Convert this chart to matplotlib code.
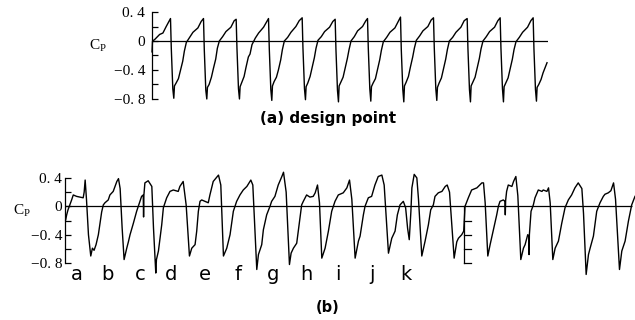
import matplotlib
matplotlib.use("Agg")
import matplotlib.pyplot as plt

# ---- data (a) design point: Cp over blade passages ----
top_start_t = [0.0, 0.015, 0.08, 0.23, 0.33, 0.43]
top_start_cp = [-0.15, 0.0, 0.02, 0.09, 0.11, 0.20]
top_peaks = [0.56, 1.56, 2.55, 3.53, 4.55, 5.55, 6.53, 7.53, 8.53, 9.55, 10.55, 11.55]
# phase after each peak (in passages)
top_phase = [0, 0.024, 0.07, 0.10, 0.12, 0.17, 0.24, 0.30, 0.37, 0.42, 0.48, 0.58, 0.68, 0.83, 0.93]
top_cycles = [
    [0.31, -0.10, -0.66, -0.79, -0.62, -0.58, -0.52, -0.41, -0.28, -0.14, -0.02, 0.05, 0.12, 0.18, 0.27],
    [0.31, -0.12, -0.68, -0.80, -0.64, -0.60, -0.50, -0.38, -0.25, -0.10, 0.00, 0.06, 0.13, 0.19, 0.28],
    [0.30, -0.10, -0.66, -0.80, -0.63, -0.57, -0.49, -0.36, -0.22, -0.18, -0.05, 0.04, 0.11, 0.19, 0.27],
    [0.31, -0.11, -0.67, -0.82, -0.62, -0.56, -0.50, -0.40, -0.26, -0.12, 0.00, 0.05, 0.12, 0.20, 0.28],
    [0.32, -0.10, -0.66, -0.81, -0.63, -0.58, -0.49, -0.37, -0.23, -0.10, 0.01, 0.06, 0.13, 0.19, 0.27],
    [0.30, -0.12, -0.68, -0.84, -0.62, -0.57, -0.50, -0.38, -0.24, -0.12, 0.00, 0.06, 0.14, 0.20, 0.28],
    [0.31, -0.10, -0.66, -0.83, -0.63, -0.58, -0.52, -0.40, -0.26, -0.13, -0.01, 0.05, 0.12, 0.18, 0.27],
    [0.33, -0.12, -0.67, -0.84, -0.62, -0.57, -0.49, -0.36, -0.22, -0.10, 0.01, 0.07, 0.14, 0.20, 0.29],
    [0.32, -0.10, -0.66, -0.82, -0.64, -0.58, -0.51, -0.39, -0.25, -0.12, 0.00, 0.05, 0.12, 0.19, 0.28],
    [0.31, -0.11, -0.67, -0.84, -0.62, -0.57, -0.50, -0.38, -0.24, -0.11, 0.00, 0.06, 0.13, 0.19, 0.28],
    [0.32, -0.10, -0.66, -0.84, -0.63, -0.58, -0.51, -0.39, -0.25, -0.12, -0.01, 0.05, 0.12, 0.19, 0.28],
    [0.32, -0.11, -0.67, -0.83, -0.64, -0.60, -0.53, -0.44, -0.36, -0.30],
]
top_tmax = 12.0

# ---- data (b): off-design, traced curve ----
bot_t = [0.02, 0.05, 0.09, 0.13, 0.20, 0.25, 0.35, 0.45, 0.55, 0.58, 0.61, 0.65, 0.71, 0.78, 0.83, 0.88,
         0.94, 1.01, 1.06, 1.11, 1.16, 1.21, 1.26, 1.31, 1.36, 1.46, 1.57, 1.62, 1.67, 1.73, 1.79, 1.87,
         1.92, 1.97, 2.07, 2.17, 2.27, 2.32, 2.37, 2.38, 2.39, 2.42, 2.52, 2.63, 2.68, 2.75, 2.77, 2.83,
         2.88, 2.93, 2.98, 3.08, 3.18, 3.28, 3.36, 3.43, 3.48, 3.58, 3.67, 3.77, 3.84, 3.94, 3.99, 4.04,
         4.09, 4.14, 4.24, 4.34, 4.39, 4.49, 4.65, 4.72, 4.80, 4.90, 5.00, 5.10, 5.20, 5.30, 5.40, 5.51,
         5.63, 5.69, 5.81, 5.86, 5.96, 6.01, 6.11, 6.21, 6.26, 6.36, 6.46, 6.57, 6.62, 6.70, 6.80, 6.85,
         6.92, 7.02, 7.12, 7.17, 7.22, 7.32, 7.42, 7.52, 7.58, 7.65, 7.71, 7.78, 7.88, 7.98, 8.08, 8.18,
         8.28, 8.43, 8.54, 8.62, 8.69, 8.79, 8.89, 8.94, 9.04, 9.09, 9.19, 9.29, 9.39, 9.49, 9.60, 9.67,
         9.80, 9.90, 10.00, 10.07, 10.15, 10.25, 10.32, 10.38, 10.43, 10.48, 10.51, 10.58, 10.66, 10.71,
         10.81, 10.91, 11.01, 11.08, 11.16, 11.21, 11.31, 11.42, 11.52, 11.58, 11.65, 11.79, 11.87, 11.92,
         12.02, 12.08, 12.12, 12.22, 12.32, 12.48, 12.63, 12.68, 12.73, 12.81, 12.88, 12.98, 13.08, 13.13,
         13.18, 13.28, 13.33, 13.34, 13.35, 13.38, 13.43, 13.54, 13.59, 13.66, 13.72, 13.81, 13.89, 13.94,
         14.02, 14.05, 14.06, 14.07, 14.12, 14.19, 14.24, 14.34, 14.45, 14.49, 14.60, 14.65, 14.70, 14.78,
         14.85, 14.95, 15.05, 15.15, 15.25, 15.35, 15.45, 15.55, 15.66, 15.71, 15.79, 15.86, 15.91, 16.01,
         16.11, 16.21, 16.31, 16.36, 16.46, 16.54, 16.62, 16.68, 16.80, 16.87, 16.97, 17.07, 17.17, 17.27]
bot_cp = [-0.19, -0.12, -0.05, 0.00, 0.09, 0.16, 0.14, 0.13, 0.12, 0.20, 0.37, 0.10, -0.40, -0.70, -0.59, -0.62,
          -0.54, -0.40, -0.24, -0.08, 0.02, 0.05, 0.07, 0.09, 0.16, 0.21, 0.35, 0.39, 0.25, -0.30, -0.75, -0.59,
          -0.50, -0.40, -0.24, -0.07, 0.07, 0.14, 0.16, -0.15, 0.16, 0.33, 0.36, 0.28, -0.30, -0.94, -0.75, -0.63,
          -0.45, -0.26, -0.02, 0.12, 0.21, 0.23, 0.22, 0.21, 0.28, 0.35, 0.02, -0.70, -0.59, -0.54, -0.35, -0.07,
          0.07, 0.09, 0.07, 0.05, 0.16, 0.35, 0.44, 0.30, -0.70, -0.59, -0.40, -0.07, 0.07, 0.16, 0.23, 0.28,
          0.37, 0.30, -0.89, -0.68, -0.54, -0.33, -0.12, 0.00, 0.07, 0.14, 0.30, 0.42, 0.48, 0.20, -0.82, -0.66,
          -0.59, -0.52, -0.16, 0.02, 0.07, 0.16, 0.13, 0.14, 0.19, 0.30, 0.05, -0.73, -0.59, -0.35, -0.07, 0.07,
          0.16, 0.19, 0.26, 0.37, 0.10, -0.73, -0.49, -0.42, -0.12, 0.00, 0.12, 0.14, 0.30, 0.42, 0.44, 0.30,
          -0.66, -0.45, -0.35, -0.12, 0.02, 0.07, -0.02, -0.31, -0.47, -0.07, 0.26, 0.45, 0.40, 0.10,
          -0.70, -0.49, -0.26, -0.05, 0.02, 0.14, 0.19, 0.21, 0.28, 0.30, 0.20, -0.73, -0.50, -0.45,
          -0.40, -0.35, 0.00, 0.12, 0.23, 0.26, 0.33, 0.33, 0.05, -0.70, -0.54, -0.33, -0.12, 0.00,
          0.07, 0.09, 0.07, -0.12, 0.08, 0.21, 0.30, 0.28, 0.35, 0.42, 0.15, -0.75, -0.59, -0.54,
          -0.40, -0.42, -0.68, -0.40, -0.07, 0.02, 0.12, 0.23, 0.21, 0.23, 0.21, 0.26, 0.05, -0.75,
          -0.59, -0.49, -0.24, -0.02, 0.09, 0.16, 0.26, 0.33, 0.25, -0.10, -0.96, -0.68, -0.59, -0.42,
          -0.07, 0.05, 0.14, 0.17, 0.19, 0.22, 0.33, 0.10, -0.89, -0.63, -0.49, -0.21, 0.02, 0.14]
bot_tmax = 17.27
bot_zero_end = 17.18
split_t = 12.10
split_ticks = [-0.2, -0.4, -0.6, -0.8]
letters = list("abcdefghijk")
letter_t = [0.36, 1.27, 2.27, 3.21, 4.24, 5.24, 6.30, 7.30, 8.27, 9.30, 10.33]

yticks = [-0.8, -0.4, 0.0, 0.4]
ylabels = ["\u22120. 8", "\u22120. 4", "0", "0. 4"]
yminor = [-0.6, -0.2, 0.2]

# build top series
t_top = list(top_start_t)
cp_top = list(top_start_cp)
for pk, vals in zip(top_peaks, top_cycles):
    for ph, v in zip(top_phase, vals):
        t_top.append(pk + ph)
        cp_top.append(v)

fig = plt.figure(figsize=(6.35, 3.2), dpi=100)
ax_a = fig.add_axes([0.2394, 0.6794, 0.6236, 0.2944])
ax_b = fig.add_axes([0.1024, 0.1667, 0.8976, 0.2884])

lw = 1.0
tick_font = dict(family="Liberation Serif", size=11)


def style_axis(ax, xmax, pad):
    ax.set_xlim(0, xmax)
    ax.set_ylim(-0.85, 0.45)
    for s in ["top", "right", "bottom"]:
        ax.spines[s].set_visible(False)
    ax.spines["left"].set_bounds(-0.8, 0.4)
    ax.spines["left"].set_linewidth(0.9)
    ax.set_xticks([])
    ax.set_yticks(yticks)
    ax.set_yticklabels(ylabels, fontdict=tick_font)
    ax.set_yticks(yminor, minor=True)
    ax.tick_params(axis="y", which="both", direction="in", length=4.3, width=0.9, pad=pad)
    ax.patch.set_visible(False)


style_axis(ax_a, top_tmax, 5)
ax_a.plot(t_top, cp_top, color="black", lw=lw, clip_on=False)
ax_a.axhline(0, color="black", lw=0.9)

style_axis(ax_b, bot_tmax, 2)
ax_b.plot(bot_t, bot_cp, color="black", lw=lw, clip_on=False)
ax_b.hlines(0, 0, bot_zero_end, color="black", lw=0.9)

# second bracket inside panel (b)
ax_b.plot([split_t, split_t], [0, split_ticks[-1]], color="black", lw=0.9)
tick_w = 0.21
for yv in split_ticks:
    ax_b.plot([split_t, split_t + tick_w], [yv, yv], color="black", lw=0.9)

for lt, ch in zip(letter_t, letters):
    ax_b.text(lt, -0.145, ch, transform=ax_b.get_xaxis_transform(), ha="center", va="baseline",
              fontsize=14, family="DejaVu Sans")

fig.text(89 / 635, 1 - 46 / 320, r"C$_\mathregular{P}$", fontsize=11, family="Liberation Serif",
         ha="left", va="center")
fig.text(13 / 635, 1 - 211 / 320, r"C$_\mathregular{P}$", fontsize=11, family="Liberation Serif",
         ha="left", va="center")

fig.text(328 / 635, 1 - 118 / 320, "(a) design point", fontsize=11, fontweight="bold",
         family="DejaVu Sans", ha="center", va="center")
fig.text(327.5 / 635, 1 - 307.5 / 320, "(b)", fontsize=10.5, fontweight="bold",
         family="DejaVu Sans", ha="center", va="center")

fig.savefig("out.png", dpi=100)
